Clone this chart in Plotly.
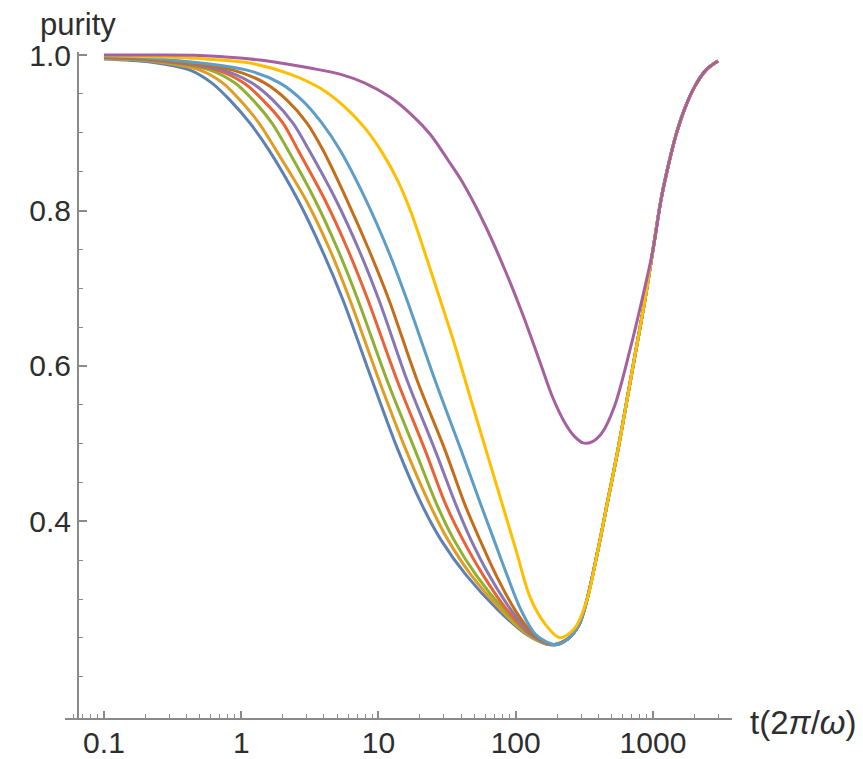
import plotly.graph_objects as go

# ---- values (t in units of 2*pi/omega, purity) ----
# shared rising branch at late times (all curves merge here)
right_t = [330.4, 397.6, 470.0, 555.9, 646.6, 751.7, 874.6, 999.8, 1144, 1286, 1471, 1711, 2023, 2433, 2976]
right_p = [0.2990, 0.3633, 0.4277, 0.4920, 0.5563, 0.6206, 0.6849, 0.7492, 0.8135, 0.8559, 0.8971, 0.9318, 0.9601, 0.9807, 0.9923]

# purity levels at which the seven lower curves were read
p_levels = [0.9807, 0.9640, 0.9421, 0.9125, 0.8778, 0.8135, 0.7492, 0.6849, 0.5820, 0.4920,
            0.4212, 0.3762, 0.3312, 0.2862, 0.2540, 0.2412]
min_exit_t = [240.3, 288.9]
min_exit_p = [0.2489, 0.2669]

blue_t = [0.1, 0.2164, 0.4232, 0.6119, 0.8279, 1.158, 1.593, 2.591, 3.876, 5.513, 8.968, 13.87, 20.75, 28.53, 43.41, 74.25, 120.8, 177.7]
blue_p = [0.9949, 0.9910] + p_levels

orange_t = [0.1, 0.2164, 0.5005, 0.7362, 0.9792, 1.347, 1.791, 2.963, 4.433, 6.200, 10.08, 15.86, 23.73, 32.09, 47.21, 78.06, 122.8, 180.7]
orange_p = [0.9955, 0.9923] + p_levels

green_t = [0.1, 0.2164, 0.5920, 0.9004, 1.218, 1.675, 2.191, 3.446, 5.069, 7.090, 11.53, 18.45, 26.69, 35.49, 51.33, 82.12, 124.9, 183.7]
green_p = [0.9961, 0.9929] + p_levels

red_t = [0.1, 0.2164, 0.6659, 1.047, 1.440, 2.015, 2.591, 4.075, 5.995, 8.385, 13.64, 21.82, 31.02, 41.28, 57.73, 86.34, 129.2, 186.8]
red_p = [0.9968, 0.9936] + p_levels

purple_t = [0.1, 0.2164, 0.7362, 1.198, 1.703, 2.383, 3.116, 4.901, 7.210, 10.08, 16.13, 25.80, 36.71, 47.21, 63.86, 92.35, 131.3, 190.0]
purple_p = [0.9974, 0.9942] + p_levels

brown_t = [0.1, 0.2164, 0.8707, 1.489, 2.154, 3.014, 3.941, 5.895, 8.527, 11.93, 19.08, 30.51, 42.68, 54.90, 71.80, 98.74, 135.8, 193.2]
brown_p = [0.9981, 0.9949] + p_levels

lblue_t = [0.1, 0.2164, 1.101, 1.916, 2.771, 3.876, 5.243, 8.108, 11.73, 16.13, 25.80, 39.92, 55.82, 69.42, 86.34, 109.2, 140.5, 196.5]
lblue_p = [0.9987, 0.9961] + p_levels

yellow_t = [0.1, 0.5005, 1.158, 2.266, 3.748, 5.701, 7.974, 10.60, 13.87, 17.25, 21.46, 28.06, 36.71, 47.21, 60.71, 78.06, 100.4, 127.0, 163.4, 210.1, 270.2]
yellow_p = [0.9994, 0.9955, 0.9897, 0.9756, 0.9576, 0.9331, 0.9061, 0.8752, 0.8379, 0.7981, 0.7492, 0.6862, 0.6219, 0.5563, 0.4920, 0.4277, 0.3633, 0.3029, 0.2682, 0.2502, 0.2630]

magenta_t = [0.1, 0.2164, 0.5005, 1.370, 3.170, 5.243, 7.974, 12.13, 17.54, 23.73, 32.09, 41.28, 59.70, 83.51, 112.9, 150.2, 186.8, 228.5, 270.2, 309.0, 359.4, 425.1, 528.5, 680.0, 831.8, 999.8]
magenta_p = [1.0, 1.0, 0.9994, 0.9936, 0.9833, 0.9756, 0.9640, 0.9460, 0.9228, 0.8984, 0.8650, 0.8354, 0.7814, 0.7235, 0.6656, 0.6051, 0.5588, 0.5267, 0.5087, 0.5010, 0.5023, 0.5138, 0.5498, 0.6206, 0.6849, 0.7492]

y_major = [0.4, 0.6, 0.8, 1.0]
y_labels = ["0.4", "0.6", "0.8", "1.0"]
y_minor = [0.2, 0.25, 0.3, 0.35, 0.45, 0.5, 0.55, 0.65, 0.7, 0.75, 0.85, 0.9, 0.95]
x_major = [0.1, 1, 10, 100, 1000]
x_labels = ["0.1", "1", "10", "100", "1000"]
x_minor = [0.06, 0.07, 0.08, 0.09,
           0.2, 0.3, 0.4, 0.5, 0.6, 0.7, 0.8, 0.9,
           2, 3, 4, 5, 6, 7, 8, 9,
           20, 30, 40, 50, 60, 70, 80, 90,
           200, 300, 400, 500, 600, 700, 800, 900,
           2000, 3000]

# (t, p, colour, tail kind)
series = [
    (blue_t, blue_p, "#5E81B5", "group"),
    (orange_t, orange_p, "#E19C24", "group"),
    (green_t, green_p, "#8FB032", "group"),
    (red_t, red_p, "#EB6235", "group"),
    (purple_t, purple_p, "#8778B3", "group"),
    (brown_t, brown_p, "#C56E1A", "group"),
    (lblue_t, lblue_p, "#5D9EC7", "group"),
    (yellow_t, yellow_p, "#FFBF00", "yellow"),
    (magenta_t, magenta_p, "#A5609D", "magenta"),
]

fig = go.Figure()
for t, p, col, kind in series:
    if kind == "group":
        tt = list(t) + min_exit_t + right_t
        pp = list(p) + min_exit_p + right_p
    elif kind == "yellow":
        tt = list(t) + right_t
        pp = list(p) + right_p
    else:
        tt = list(t) + right_t[8:]
        pp = list(p) + right_p[8:]
    fig.add_trace(go.Scatter(x=tt, y=pp, mode="lines",
                             line=dict(color=col, width=3, shape="spline", smoothing=0.9),
                             showlegend=False, hoverinfo="skip"))

axis_col = "#8a8a8a"
font_fam = "Liberation Sans, Arial, sans-serif"
txt_col = "#2e2e2e"
fig.update_layout(
    width=863, height=759,
    margin=dict(l=65, r=131, t=52, b=41, autoexpand=False),
    paper_bgcolor="white", plot_bgcolor="white",
    xaxis=dict(type="log", range=[-1.284, 3.576], automargin=False,
               showline=True, linecolor=axis_col, linewidth=2,
               ticks="inside", ticklen=7, tickwidth=1.5, tickcolor=axis_col,
               tickmode="array", tickvals=x_major, ticktext=x_labels,
               tickfont=dict(size=30, family=font_fam, color=txt_col),
               ticklabelstandoff=-3,
               showgrid=False, zeroline=False,
               minor=dict(ticks="inside", ticklen=4, tickwidth=1.2, tickcolor=axis_col,
                          tickmode="array", tickvals=x_minor, showgrid=False)),
    yaxis=dict(range=[0.147, 1.004], anchor="free", position=0.0195, automargin=False,
               showline=True, linecolor=axis_col, linewidth=2,
               ticks="inside", ticklen=8, tickwidth=1.5, tickcolor=axis_col,
               tickmode="array", tickvals=y_major, ticktext=y_labels,
               tickfont=dict(size=30, family=font_fam, color=txt_col),
               showgrid=False, zeroline=False,
               minor=dict(ticks="inside", ticklen=4, tickwidth=1.2, tickcolor=axis_col,
                          tickmode="array", tickvals=y_minor, showgrid=False)),
    annotations=[
        dict(text="purity", xref="paper", yref="paper", x=0.0195, y=1.042,
             xanchor="center", yanchor="middle", showarrow=False,
             font=dict(size=31, family=font_fam, color=txt_col)),
        dict(text="t(2<i>π</i>/<i>ω</i>)", xref="paper", yref="paper", x=1.024, y=-0.0075,
             xanchor="left", yanchor="middle", showarrow=False,
             font=dict(size=33, family=font_fam, color=txt_col)),
    ],
)

fig.write_html("out.html", config={"displayModeBar": False},
               post_script="document.body.style.margin='0px';document.body.style.overflow='hidden';")
